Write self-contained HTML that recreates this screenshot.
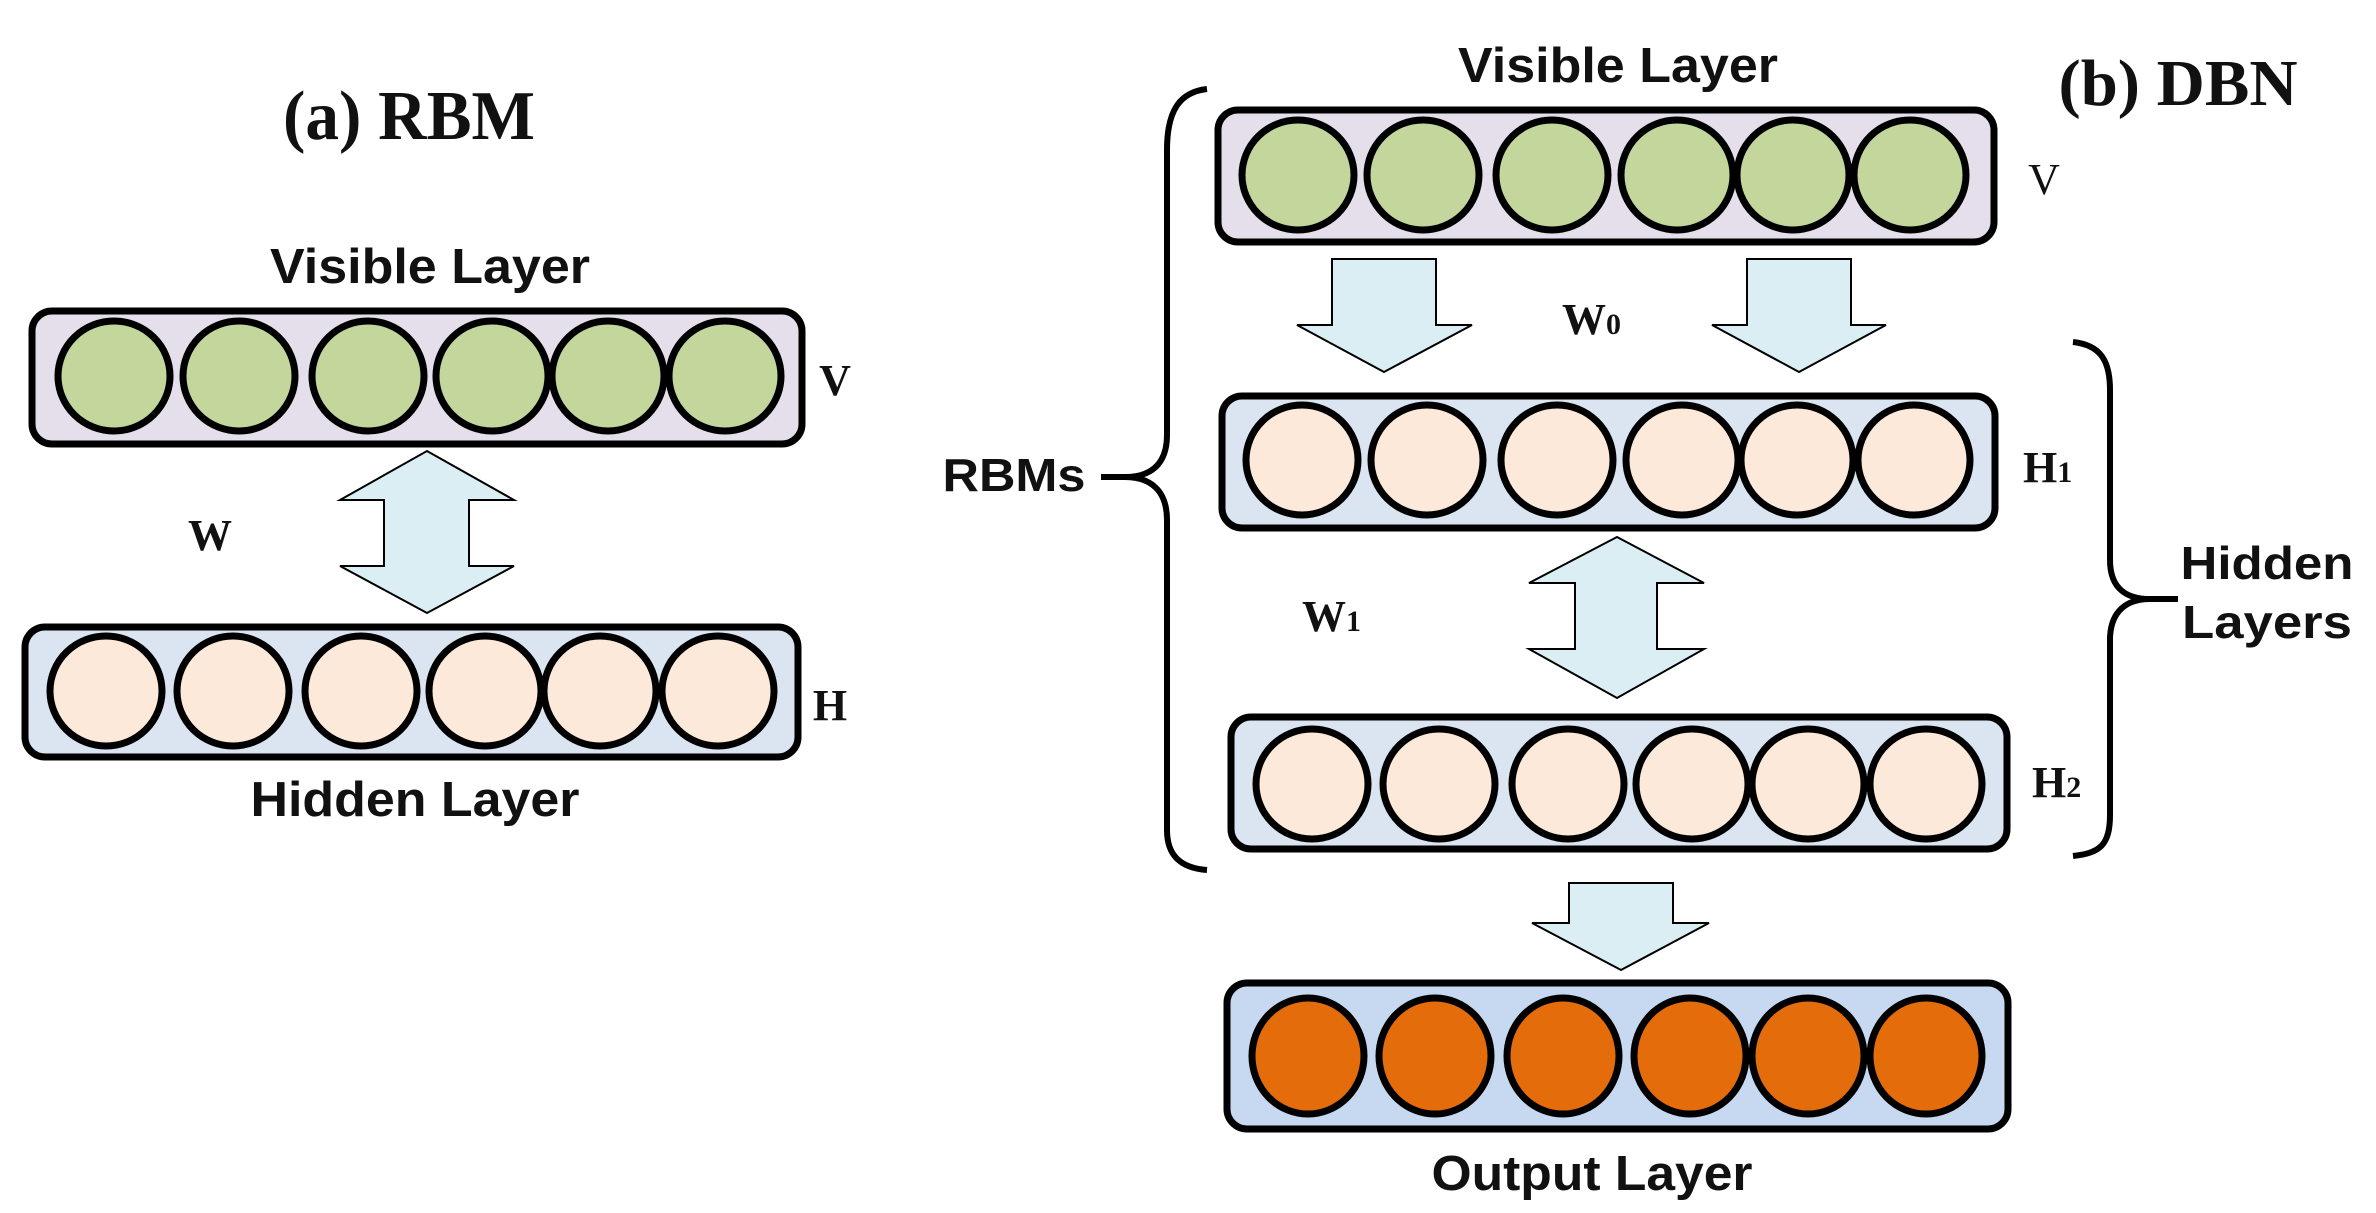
<!DOCTYPE html>
<html><head><meta charset="utf-8"><style>html,body{margin:0;padding:0;background:#fff}svg{display:block}</style></head>
<body>
<svg width="2376" height="1213" viewBox="0 0 2376 1213" xmlns="http://www.w3.org/2000/svg">
<g font-family="Liberation Sans, sans-serif" font-weight="bold" fill="#111">
<text x="409" y="139" font-family="Liberation Serif, serif" font-size="70" text-anchor="middle" textLength="252" lengthAdjust="spacingAndGlyphs">(a) RBM</text>
<text x="430" y="283" font-size="49" text-anchor="middle" textLength="320" lengthAdjust="spacingAndGlyphs">Visible Layer</text>
<text x="415" y="816" font-size="49" text-anchor="middle" textLength="329" lengthAdjust="spacingAndGlyphs">Hidden Layer</text>
<text x="1618" y="82" font-size="49" text-anchor="middle" textLength="320" lengthAdjust="spacingAndGlyphs">Visible Layer</text>
<text x="2178" y="105" font-family="Liberation Serif, serif" font-size="66" text-anchor="middle" textLength="239" lengthAdjust="spacingAndGlyphs">(b) DBN</text>
<text x="1592" y="1190" font-size="49" text-anchor="middle" textLength="321" lengthAdjust="spacingAndGlyphs">Output Layer</text>
<text x="1014" y="491" font-size="46" text-anchor="middle" textLength="143" lengthAdjust="spacingAndGlyphs">RBMs</text>
<text x="2267" y="579" font-size="46" text-anchor="middle" textLength="173" lengthAdjust="spacingAndGlyphs">Hidden</text>
<text x="2267" y="638" font-size="46" text-anchor="middle" textLength="170" lengthAdjust="spacingAndGlyphs">Layers</text>
</g>
<g font-family="Liberation Serif, serif" font-weight="bold" fill="#111" font-size="44">
<text x="835" y="395" text-anchor="middle">V</text>
<text x="830" y="720" text-anchor="middle">H</text>
<text x="210" y="550" text-anchor="middle">W</text>
<text x="2044" y="194" text-anchor="middle" font-weight="normal">V</text>
<text x="2023" y="482">H<tspan font-size="30">1</tspan></text>
<text x="2032" y="797">H<tspan font-size="30">2</tspan></text>
<text x="1562" y="334">W<tspan font-size="30">0</tspan></text>
<text x="1302" y="631">W<tspan font-size="30">1</tspan></text>
</g>
<g stroke="#000" stroke-width="7">
<rect x="32" y="311" width="770" height="133" rx="20" fill="#e5dfec"/>
<rect x="25" y="627" width="773" height="130" rx="20" fill="#dbe5f1"/>
<rect x="1218" y="110" width="776" height="132" rx="20" fill="#e5dfec"/>
<rect x="1222" y="396" width="773" height="132" rx="20" fill="#dbe5f1"/>
<rect x="1231" y="717" width="776" height="132" rx="20" fill="#dbe5f1"/>
<rect x="1227" y="983" width="781" height="146" rx="20" fill="#c6d9f1"/>
</g>
<g stroke="#000" stroke-width="7" fill="#c3d69b">
<ellipse cx="114" cy="376" rx="56" ry="55"/><ellipse cx="239" cy="376" rx="56" ry="55"/><ellipse cx="368" cy="376" rx="56" ry="55"/><ellipse cx="492" cy="376" rx="56" ry="55"/><ellipse cx="608" cy="376" rx="56" ry="55"/><ellipse cx="725" cy="376" rx="56" ry="55"/>
<ellipse cx="1298" cy="175" rx="56" ry="55"/><ellipse cx="1423" cy="175" rx="56" ry="55"/><ellipse cx="1552" cy="175" rx="56" ry="55"/><ellipse cx="1677" cy="175" rx="56" ry="55"/><ellipse cx="1793" cy="175" rx="56" ry="55"/><ellipse cx="1910" cy="175" rx="56" ry="55"/>
</g>
<g stroke="#000" stroke-width="7" fill="#fde9d9">
<ellipse cx="106" cy="691" rx="56" ry="55"/><ellipse cx="233" cy="691" rx="56" ry="55"/><ellipse cx="361" cy="691" rx="56" ry="55"/><ellipse cx="485" cy="691" rx="56" ry="55"/><ellipse cx="600" cy="691" rx="56" ry="55"/><ellipse cx="718" cy="691" rx="56" ry="55"/>
<ellipse cx="1302" cy="460" rx="56" ry="55"/><ellipse cx="1427" cy="460" rx="56" ry="55"/><ellipse cx="1557" cy="460" rx="56" ry="55"/><ellipse cx="1682" cy="460" rx="56" ry="55"/><ellipse cx="1797" cy="460" rx="56" ry="55"/><ellipse cx="1914" cy="460" rx="56" ry="55"/>
<ellipse cx="1312" cy="784" rx="56" ry="55"/><ellipse cx="1439" cy="784" rx="56" ry="55"/><ellipse cx="1568" cy="784" rx="56" ry="55"/><ellipse cx="1692" cy="784" rx="56" ry="55"/><ellipse cx="1808" cy="784" rx="56" ry="55"/><ellipse cx="1926" cy="784" rx="56" ry="55"/>
</g>
<g stroke="#000" stroke-width="7" fill="#e46c0a">
<ellipse cx="1308" cy="1056" rx="56" ry="58"/><ellipse cx="1435" cy="1056" rx="56" ry="58"/><ellipse cx="1563" cy="1056" rx="56" ry="58"/><ellipse cx="1690" cy="1056" rx="56" ry="58"/><ellipse cx="1808" cy="1056" rx="56" ry="58"/><ellipse cx="1926" cy="1056" rx="56" ry="58"/>
</g>
<g stroke="#000" stroke-width="2" fill="#dbeef4">
<polygon points="427,451 514,500 469,500 469,566 514,566 427,613 340,566 384,566 384,500 340,500"/>
<polygon points="1617,537 1704,583 1657,583 1657,649 1704,649 1617,698 1529,649 1575,649 1575,583 1529,583"/>
<polygon points="1332,259 1436,259 1436,325 1472,325 1384,372 1297,325 1332,325"/>
<polygon points="1747,259 1851,259 1851,325 1886,325 1799,372 1712,325 1747,325"/>
<polygon points="1569,883 1673,883 1673,923 1709,923 1621,970 1532,923 1569,923"/>
</g>
<g stroke="#000" stroke-width="6" fill="none">
<path d="M1207,89 C1180,92 1167,110 1167,150 L1167,435 C1167,465 1150,477 1125,477 L1101,477 M1125,477 C1150,477 1167,490 1167,520 L1167,830 C1167,855 1180,868 1207,870"/>
<path d="M2073,342 C2100,345 2110,360 2110,390 L2110,560 C2110,590 2128,599 2150,599 L2178,599 M2150,599 C2128,599 2110,610 2110,640 L2110,815 C2110,845 2100,853 2073,856"/>
</g>
</svg>
</body></html>
